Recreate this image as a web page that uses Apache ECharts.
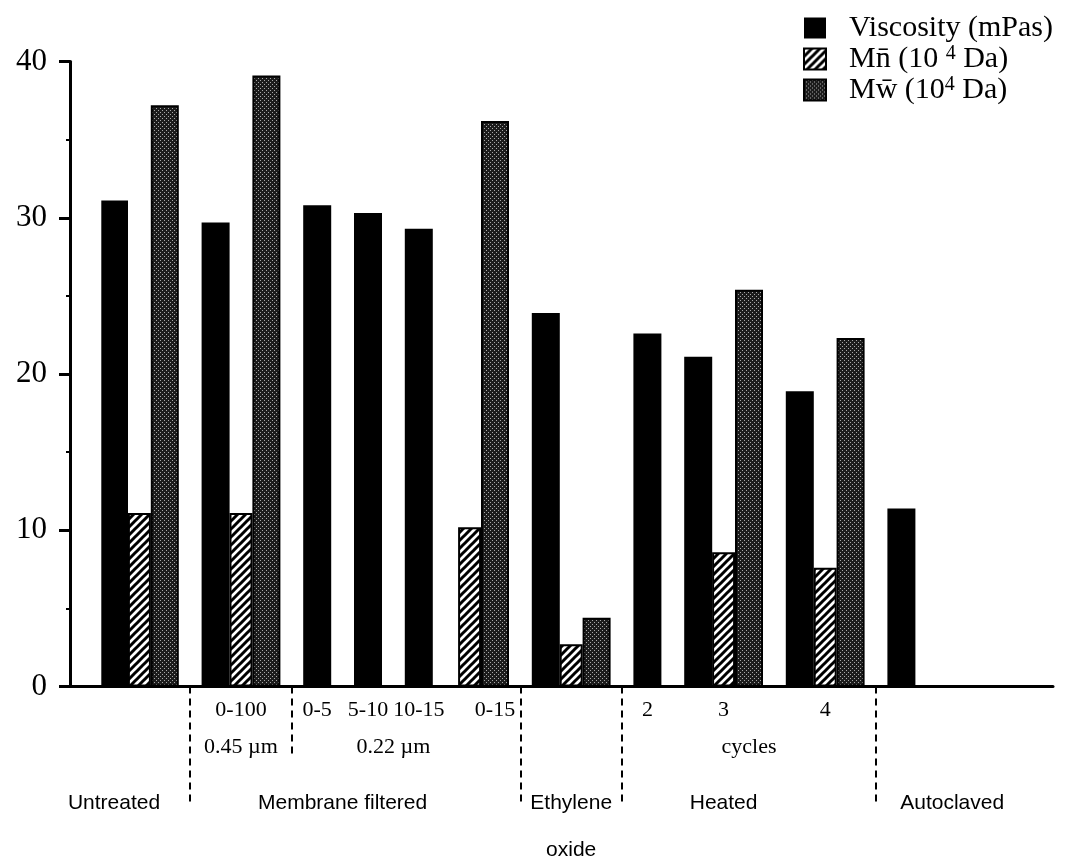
<!DOCTYPE html>
<html>
<head>
<meta charset="utf-8">
<script src="https://cdn.jsdelivr.net/npm/echarts@6/dist/echarts.min.js"></script>
<style>
html,body{margin:0;padding:0;background:#fff;}
#chart{width:1065px;height:861px;}
</style>
</head>
<body>
<div id="chart"></div>
<script>
// ---------- DATA ----------
// Each slot is one bar position along the x axis (empty strings / nulls = gaps).
const slotTop = ['', '', '', '', '', '0-100', '', '', '0-5', '', '5-10', '', '10-15', '', '', '0-15', '', '', '', '', '', '2', '', '', '3', '', '', '', '4', '', '', '', '', '', '', '', ''];
const slotMid = ['', '', '', '', '', '0.45 \u00b5m', '', '', '', '', '', '0.22 \u00b5m', '', '', '', '', '', '', '', '', '', '', '', '', '', 'cycles', '', '', '', '', '', '', '', '', '', '', ''];
const slotBottom = ['Untreated', '', '', '', '', '', '', '', '', 'Membrane filtered', '', '', '', '', '', '', '', '', 'Ethylene\noxide', '', '', '', '', '', 'Heated', '', '', '', '', '', '', '', '', 'Autoclaved', '', '', ''];

const viscosity = [31.1, null, null, null, 29.7, null, null, null, 30.8, null, 30.3, null, 29.3, null, null, null, null, 23.9, null, null, null, 22.6, null, 21.1, null, null, null, 18.9, null, null, null, 11.4, null, null, null, null, null];
const mnValues  = [null, 11.1, null, null, null, 11.1, null, null, null, null, null, null, null, null, 10.2, null, null, null, 2.7, null, null, null, null, null, 8.6, null, null, null, 7.6, null, null, null, null, null, null, null, null];
const mwValues  = [null, null, 37.2, null, null, null, 39.1, null, null, null, null, null, null, null, null, 36.2, null, null, null, 4.4, null, null, null, null, null, 25.4, null, null, null, 22.3, null, null, null, null, null, null, null];

const seriesNames = ['Viscosity (mPas)', 'Mn\u0304 (10 \u2074 Da)', 'Mw\u0304 (10\u2074 Da)'];
const yMin = 0, yMax = 40, yStep = 10;

// empty slots that separate treatment groups (dashed separators)
const longSeparators = [3, 16, 20, 30];
const shortSeparators = [7];

// ---------- PATTERNS ----------
function hatchPattern() {
  const c = document.createElement('canvas');
  c.width = 8; c.height = 8;
  const g = c.getContext('2d');
  g.fillStyle = '#fff'; g.fillRect(0, 0, 8, 8);
  g.strokeStyle = '#000'; g.lineWidth = 3;
  g.beginPath();
  g.moveTo(-2, 10); g.lineTo(10, -2);
  g.moveTo(-6, 6); g.lineTo(6, -6);
  g.moveTo(2, 14); g.lineTo(14, 2);
  g.stroke();
  return c;
}
function stipplePattern() {
  const c = document.createElement('canvas');
  c.width = 4; c.height = 4;
  const g = c.getContext('2d');
  g.fillStyle = '#1c1c1c'; g.fillRect(0, 0, 4, 4);
  g.fillStyle = '#a8a8a8';
  g.fillRect(0, 0, 1, 1); g.fillRect(2, 2, 1, 1);
  return c;
}

const serif = 'Liberation Serif';
const sans = 'Liberation Sans';
const gTop = 61.5, gBottom = 174.5;

const chart = echarts.init(document.getElementById('chart'), null, {renderer: 'canvas'});
const option = {
  animation: false,
  backgroundColor: '#fff',
  textStyle: {fontFamily: serif, color: '#000'},
  legend: {
    orient: 'vertical',
    left: 798, top: 8,
    itemWidth: 22, itemHeight: 21, itemGap: 1,
    icon: 'rect',
    data: seriesNames,
    formatter: function (n) { return '{g|}' + n.replace('\u2074', '{sup|4}'); },
    textStyle: {
      fontFamily: serif, fontSize: 30, color: '#000', lineHeight: 30,
      rich: {
        g: {width: 18},
        sup: {fontFamily: serif, fontSize: 20, lineHeight: 16, verticalAlign: 'top', color: '#000'}
      }
    }
  },
  grid: [
    {left: 70, right: 12, top: gTop, bottom: gBottom, outerBoundsMode: 'none', containLabel: false},
    {left: 101.3, right: 23.9, top: gTop, bottom: gBottom, outerBoundsMode: 'none', containLabel: false}
  ],
  xAxis: [
    {
      gridIndex: 1, type: 'category', data: slotTop, position: 'bottom',
      axisLine: {show: false},
      axisTick: {show: true, alignWithLabel: true, length: 118,
        interval: function (i) { return longSeparators.indexOf(i) >= 0; },
        lineStyle: {color: '#000', width: 2, type: [7, 5]}},
      axisLabel: {interval: 0, margin: 13, fontFamily: serif, fontSize: 22, color: '#000'},
      splitLine: {show: false}
    },
    {
      gridIndex: 1, type: 'category', data: slotMid, position: 'bottom',
      axisLine: {show: false},
      axisTick: {show: true, alignWithLabel: true, length: 72,
        interval: function (i) { return shortSeparators.indexOf(i) >= 0; },
        lineStyle: {color: '#000', width: 2, type: [7, 5]}},
      axisLabel: {interval: 0, margin: 50, fontFamily: serif, fontSize: 22, color: '#000'},
      splitLine: {show: false}
    },
    {
      gridIndex: 1, type: 'category', data: slotBottom, position: 'bottom',
      axisLine: {show: false}, axisTick: {show: false},
      axisLabel: {interval: 0, margin: 93, fontFamily: sans, fontSize: 21, lineHeight: 47, color: '#000'},
      splitLine: {show: false}
    },
    {
      gridIndex: 0, type: 'value', min: 0, max: 1, position: 'bottom',
      axisLine: {show: true, lineStyle: {color: '#000', width: 3}},
      axisTick: {show: false}, axisLabel: {show: false}, splitLine: {show: false}
    }
  ],
  yAxis: [
    {
      gridIndex: 0, type: 'value', min: yMin, max: yMax, interval: yStep,
      axisLine: {show: true, lineStyle: {color: '#000', width: 3}},
      axisTick: {show: true, length: 11, lineStyle: {color: '#000', width: 3}},
      minorTick: {show: true, splitNumber: 2, length: 4, lineStyle: {color: '#000', width: 2}},
      axisLabel: {margin: 23, fontFamily: serif, fontSize: 31, color: '#000'},
      splitLine: {show: false}
    },
    {
      gridIndex: 1, type: 'value', min: yMin, max: yMax, show: false
    }
  ],
  series: [
    {
      name: seriesNames[0], type: 'bar', xAxisIndex: 0, yAxisIndex: 1,
      data: viscosity, barWidth: 28, barGap: '-100%',
      itemStyle: {color: '#000'}
    },
    {
      name: seriesNames[1], type: 'bar', xAxisIndex: 1, yAxisIndex: 1,
      data: mnValues, barWidth: 23,
      itemStyle: {color: {image: hatchPattern(), repeat: 'repeat'}, borderColor: '#000', borderWidth: 2}
    },
    {
      name: seriesNames[2], type: 'bar', xAxisIndex: 0, yAxisIndex: 1,
      data: mwValues, barWidth: 28, barGap: '-100%',
      itemStyle: {color: {image: stipplePattern(), repeat: 'repeat'}, borderColor: '#000', borderWidth: 2}
    }
  ]
};
chart.setOption(option);
</script>
</body>
</html>
